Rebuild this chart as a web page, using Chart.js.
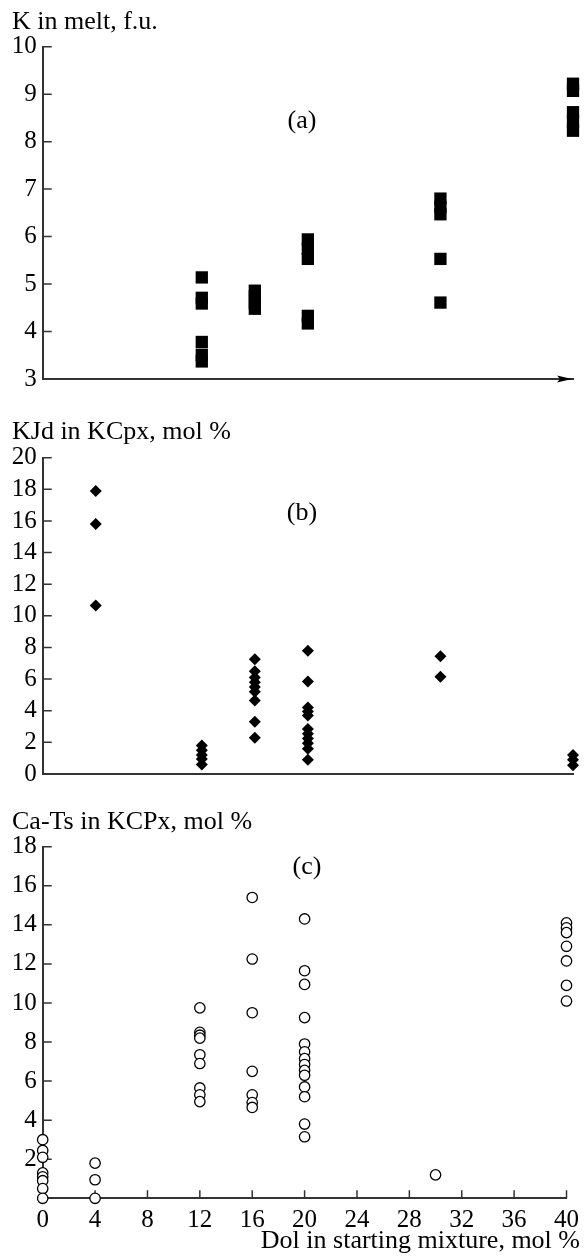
<!DOCTYPE html>
<html>
<head>
<meta charset="utf-8">
<script src="https://cdn.jsdelivr.net/npm/chart.js@4.4.1/dist/chart.umd.min.js"></script>
<style>
  body { margin: 0; background: #fff; width: 586px; height: 1258px; position: relative; overflow: hidden; font-family: "Liberation Serif", "Times New Roman", serif; }
  .panel { position: absolute; left: 0; width: 586px; }
  .lbl { position: absolute; font-size: 26px; line-height: 1; color: #000; white-space: nowrap; }
  .mid { transform: translateX(-50%); }
</style>
</head>
<body>
<div class="panel" style="top:0;height:400px"><canvas id="chartA" width="586" height="400"></canvas></div>
<div class="panel" style="top:400px;height:395px"><canvas id="chartB" width="586" height="395"></canvas></div>
<div class="panel" style="top:795px;height:463px"><canvas id="chartC" width="586" height="463"></canvas></div>

<div class="lbl" style="left:12px;top:7.5px">K in melt, f.u.</div>
<div class="lbl mid" style="left:302px;top:107px">(a)</div>
<div class="lbl" style="left:12px;top:417.5px">KJd in KCpx, mol %</div>
<div class="lbl mid" style="left:302px;top:499px">(b)</div>
<div class="lbl" style="left:12px;top:807.5px">Ca-Ts in KCPx, mol %</div>
<div class="lbl mid" style="left:307px;top:853px">(c)</div>
<div class="lbl" style="right:6px;top:1227px">Dol in starting mixture, mol %</div>

<script>
// Dol in starting mixture (mol %) for each measured point
const doseA = [12, 12, 12, 12, 12, 12, 16, 16, 16, 16, 20, 20, 20, 20, 20, 30, 30, 30, 30, 30, 40, 40, 40, 40, 40];
const kMelt = [5.14, 4.71, 4.59, 3.78, 3.51, 3.37, 4.86, 4.74, 4.6, 4.48, 5.94, 5.74, 5.53, 4.33, 4.17,
    6.8, 6.63, 6.47, 5.53, 4.61, 9.22, 9.07, 8.62, 8.42, 8.23];

const doseB = [4, 4, 4, 12, 12, 12, 12, 12, 16, 16, 16, 16, 16, 16, 16, 16, 16,
    20, 20, 20, 20, 20, 20, 20, 20, 20, 20, 20, 30, 30, 40, 40, 40];
const kjd = [17.9, 15.8, 10.65, 1.8, 1.5, 1.2, 0.95, 0.6, 7.25, 6.5, 6.1, 5.8, 5.5, 5.2, 4.65, 3.3, 2.3,
    7.8, 5.85, 4.2, 3.95, 3.7, 2.85, 2.55, 2.25, 1.95, 1.6, 0.9, 7.45, 6.15, 1.2, 0.9, 0.55];

const doseC = [0, 0, 0, 0, 0, 0, 0, 0, 4, 4, 4, 12, 12, 12, 12, 12, 12, 12, 12, 12,
    16, 16, 16, 16, 16, 16, 16, 20, 20, 20, 20, 20, 20, 20, 20, 20, 20, 20, 20, 20, 20,
    30, 40, 40, 40, 40, 40, 40, 40];
const caTs = [3.0, 2.45, 2.1, 1.3, 1.1, 0.9, 0.5, 0, 1.8, 0.95, 0,
    9.75, 8.5, 8.35, 8.2, 7.35, 6.9, 5.65, 5.3, 4.95,
    15.4, 12.25, 9.5, 6.5, 5.3, 4.9, 4.65,
    14.3, 11.65, 10.95, 9.25, 7.9, 7.5, 7.15, 6.85, 6.55, 6.3, 5.7, 5.2, 3.8, 3.15,
    1.2, 14.1, 13.85, 13.6, 12.9, 12.15, 10.9, 10.1];

const axisColor = '#333';
const fontSpec = { family: '"Liberation Serif", "Times New Roman", serif', size: 25 };

// ticks in this figure point into the plot, so draw them ourselves from the scales
const innerTicks = {
    id: 'innerTicks',
    beforeDatasetsDraw(chart, args, opts) {
        const { ctx, chartArea } = chart;
        const x = chart.scales.x, y = chart.scales.y;
        ctx.save();
        ctx.strokeStyle = axisColor;
        ctx.lineWidth = 1.5;
        ctx.beginPath();
        y.ticks.forEach(t => {
            if (t.value === y.min) return;
            const py = y.getPixelForValue(t.value);
            ctx.moveTo(chartArea.left, py);
            ctx.lineTo(chartArea.left + 9, py);
        });
        if (opts.xTicks) {
            x.ticks.forEach(t => {
                if (t.value === x.min) return;
                const px = x.getPixelForValue(t.value);
                ctx.moveTo(px, chartArea.bottom);
                ctx.lineTo(px, chartArea.bottom - 8);
            });
        }
        ctx.stroke();
        if (opts.arrow) {
            const tip = chartArea.right - 1, yb = chartArea.bottom;
            ctx.fillStyle = '#000';
            ctx.beginPath();
            ctx.moveTo(tip, yb);
            ctx.lineTo(tip - 15, yb - 3.5);
            ctx.lineTo(tip - 12, yb);
            ctx.lineTo(tip - 15, yb + 3.5);
            ctx.closePath();
            ctx.fill();
        }
        ctx.restore();
    }
};

function toPoints(xs, ys) {
    return xs.map((d, i) => ({ x: d, y: ys[i] }));
}

function makeChart(id, points, pointOpts, yCfg, panelCfg) {
    const ctx = document.getElementById(id).getContext('2d');
    return new Chart(ctx, {
        type: 'scatter',
        data: {
            datasets: [Object.assign({ data: points, clip: false }, pointOpts)]
        },
        options: {
            responsive: false,
            animation: false,
            events: [],
            layout: { padding: panelCfg.padding },
            plugins: {
                legend: { display: false },
                tooltip: { enabled: false },
                innerTicks: { xTicks: panelCfg.xLabels, arrow: panelCfg.arrow }
            },
            scales: {
                x: {
                    type: 'linear',
                    min: 0,
                    max: 40,
                    grid: { drawOnChartArea: false, drawTicks: false },
                    border: { color: axisColor, width: 2 },
                    ticks: {
                        display: panelCfg.xLabels,
                        stepSize: 4,
                        autoSkip: false,
                        maxRotation: 0,
                        padding: 7,
                        color: '#000',
                        font: fontSpec
                    },
                    afterFit: s => { s.height = panelCfg.xHeight; }
                },
                y: {
                    min: yCfg.min,
                    max: yCfg.max,
                    grid: { drawOnChartArea: false, drawTicks: false },
                    border: { color: axisColor, width: 2 },
                    ticks: {
                        stepSize: yCfg.step,
                        autoSkip: false,
                        padding: 6,
                        color: '#000',
                        font: fontSpec,
                        callback: v => (yCfg.hideZero && v === 0) ? '' : v
                    },
                    afterFit: s => { s.width = 42.7; }
                }
            }
        },
        plugins: [innerTicks]
    });
}

makeChart('chartA', toPoints(doseA, kMelt),
    { pointStyle: 'rect', pointRadius: 8.7, pointBackgroundColor: '#000', pointBorderWidth: 0 },
    { min: 3, max: 10, step: 1 },
    { padding: { top: 46.7, right: 13, bottom: 6.7, left: 0 }, xHeight: 0, xLabels: false, arrow: true });

makeChart('chartB', toPoints(doseB, kjd),
    { pointStyle: 'rectRot', pointRadius: 6, pointBackgroundColor: '#000', pointBorderWidth: 0 },
    { min: 0, max: 20, step: 2 },
    { padding: { top: 57.7, right: 13, bottom: 10.7, left: 0 }, xHeight: 0, xLabels: false, arrow: false });

makeChart('chartC', toPoints(doseC, caTs),
    { pointStyle: 'circle', pointRadius: 5.2, pointBackgroundColor: '#fff', pointBorderColor: '#000', pointBorderWidth: 1.3 },
    { min: 0, max: 18, step: 2, hideZero: true },
    { padding: { top: 51.7, right: 13, bottom: 0, left: 0 }, xHeight: 59.7, xLabels: true, arrow: false });
</script>
</body>
</html>
